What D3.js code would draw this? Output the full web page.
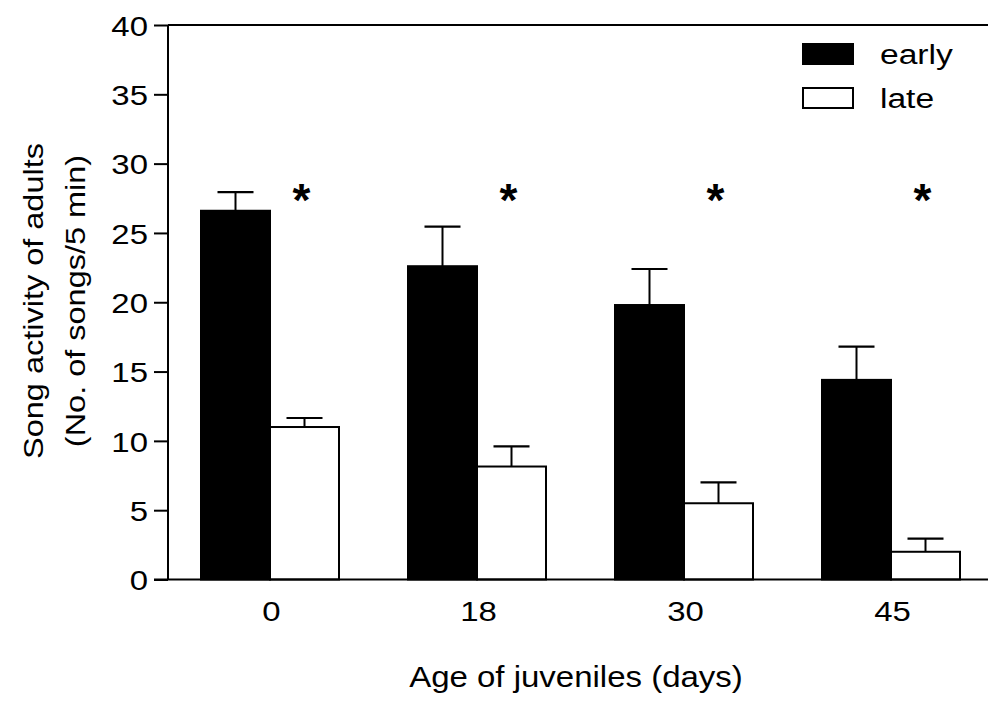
<!DOCTYPE html>
<html>
<head>
<meta charset="utf-8">
<script src="https://cdn.jsdelivr.net/npm/d3@7"></script>
<style>
  body { margin: 0; background: #fff; }
  svg { display: block; }
  text { font-family: "Liberation Sans", Arial, sans-serif; fill: #000; }
</style>
</head>
<body>
<script>
// values
var categories = ["0", "18", "30", "45"];
var series = ["early", "late"];
var earlyMean = [26.6, 22.6, 19.8, 14.4];
var earlySem  = [1.35, 2.85, 2.6, 2.4];
var lateMean  = [11.0, 8.15, 5.5, 2.0];
var lateSem   = [0.65, 1.45, 1.5, 0.95];
var yTicks = [0, 5, 10, 15, 20, 25, 30, 35, 40];
var starLevel = 28.3; // where the asterisks sit, in y units

var W = 988, H = 704;
var plotL = 168, plotT = 25, plotB = 579.5, plotR = 988;

// the original lettering is a bit wider than Liberation Sans
function widen(sel, s) {
  sel.each(function() {
    var t = d3.select(this);
    var x = +t.attr("x") || 0;
    t.attr("x", x / s).attr("transform", "scale(" + s + ",1)");
  });
}

var svg = d3.select("body").append("svg")
    .attr("width", W)
    .attr("height", H);

var y = d3.scaleLinear().domain([0, 40]).range([plotB, plotT]);
var x0 = d3.scaleBand().domain(categories).range([plotL, 996]).padding(0);
var x1 = d3.scaleBand().domain(series).range([33, 171]).padding(0);

var rows = categories.map(function(c, i) {
  return {cat: c, vals: [
    {s: "early", m: earlyMean[i], e: earlySem[i]},
    {s: "late",  m: lateMean[i],  e: lateSem[i]}
  ]};
});

// frame line on top
svg.append("line")
    .attr("x1", plotL).attr("x2", plotR)
    .attr("y1", y(40)).attr("y2", y(40))
    .attr("stroke", "#000").attr("stroke-width", 2);

var g = svg.selectAll(".grp")
    .data(rows)
  .enter().append("g")
    .attr("class", "grp")
    .attr("transform", function(d) { return "translate(" + x0(d.cat) + ",0)"; });

var bar = g.selectAll(".bar")
    .data(function(d) { return d.vals; })
  .enter().append("g")
    .attr("class", "bar");

// error bars (upper only), drawn first so the bar top covers them
bar.append("line")
    .attr("x1", function(d) { return x1(d.s) + x1.bandwidth() / 2; })
    .attr("x2", function(d) { return x1(d.s) + x1.bandwidth() / 2; })
    .attr("y1", function(d) { return y(d.m); })
    .attr("y2", function(d) { return y(d.m + d.e); })
    .attr("stroke", "#000").attr("stroke-width", 2);
bar.append("line")
    .attr("x1", function(d) { return x1(d.s) + x1.bandwidth() / 2 - 18; })
    .attr("x2", function(d) { return x1(d.s) + x1.bandwidth() / 2 + 18; })
    .attr("y1", function(d) { return y(d.m + d.e); })
    .attr("y2", function(d) { return y(d.m + d.e); })
    .attr("stroke", "#000").attr("stroke-width", 2.2);

bar.append("rect")
    .attr("x", function(d) { return x1(d.s); })
    .attr("y", function(d) { return y(d.m); })
    .attr("width", x1.bandwidth())
    .attr("height", function(d) { return plotB - y(d.m); })
    .attr("fill", function(d) { return d.s == "early" ? "#000" : "#fff"; })
    .attr("stroke", "#000")
    .attr("stroke-width", 2);

// asterisks
g.append("text")
    .attr("x", x0.bandwidth() / 2 + 30)
    .attr("y", y(starLevel))
    .attr("dy", "0.62em")
    .attr("text-anchor", "middle")
    .style("font-size", "46px")
    .style("font-weight", "bold")
    .text("*");

// y axis
var yAxis = svg.append("g")
    .attr("transform", "translate(" + plotL + ",0)")
    .call(d3.axisLeft(y).tickValues(yTicks).tickSize(14).tickPadding(6));
yAxis.select(".domain").attr("stroke-width", 2).attr("d", "M0," + plotB + "V" + plotT);
yAxis.selectAll(".tick line").attr("stroke-width", 2);
yAxis.selectAll("text").style("font-size", "27px").attr("dy", "0.38em").call(widen, 1.22);

// x axis
var xAxis = svg.append("g")
    .attr("transform", "translate(0," + plotB + ")")
    .call(d3.axisBottom(x0).tickSize(0).tickPadding(22));
xAxis.select(".domain").attr("stroke-width", 2).attr("d", "M" + (plotL - 14) + ",0H" + plotR);
xAxis.selectAll("text").style("font-size", "27px").call(widen, 1.22);

// axis titles
svg.append("text")
    .attr("x", 576).attr("y", 687)
    .attr("text-anchor", "middle")
    .style("font-size", "30px")
    .text("Age of juveniles (days)")
    .call(widen, 1.1);

var yt = svg.append("text")
    .attr("transform", "translate(43,301) rotate(-90) scale(1.16,1)")
    .attr("text-anchor", "middle")
    .style("font-size", "28px");
yt.append("tspan").attr("x", 0).attr("y", 0).text("Song activity of adults");
yt.append("tspan").attr("x", 0).attr("y", 42).text("(No. of songs/5 min)");

// legend
var legend = svg.selectAll(".leg")
    .data(series)
  .enter().append("g")
    .attr("class", "leg")
    .attr("transform", function(d, i) { return "translate(802," + (43 + i * 44) + ")"; });
legend.append("rect")
    .attr("x", 1).attr("y", 1)
    .attr("width", 50).attr("height", 20)
    .attr("fill", function(d) { return d == "early" ? "#000" : "#fff"; })
    .attr("stroke", "#000").attr("stroke-width", 2);
legend.append("text")
    .attr("x", 78).attr("y", 21)
    .style("font-size", "28px")
    .text(function(d) { return d; })
    .call(widen, 1.2);
</script>
</body>
</html>
